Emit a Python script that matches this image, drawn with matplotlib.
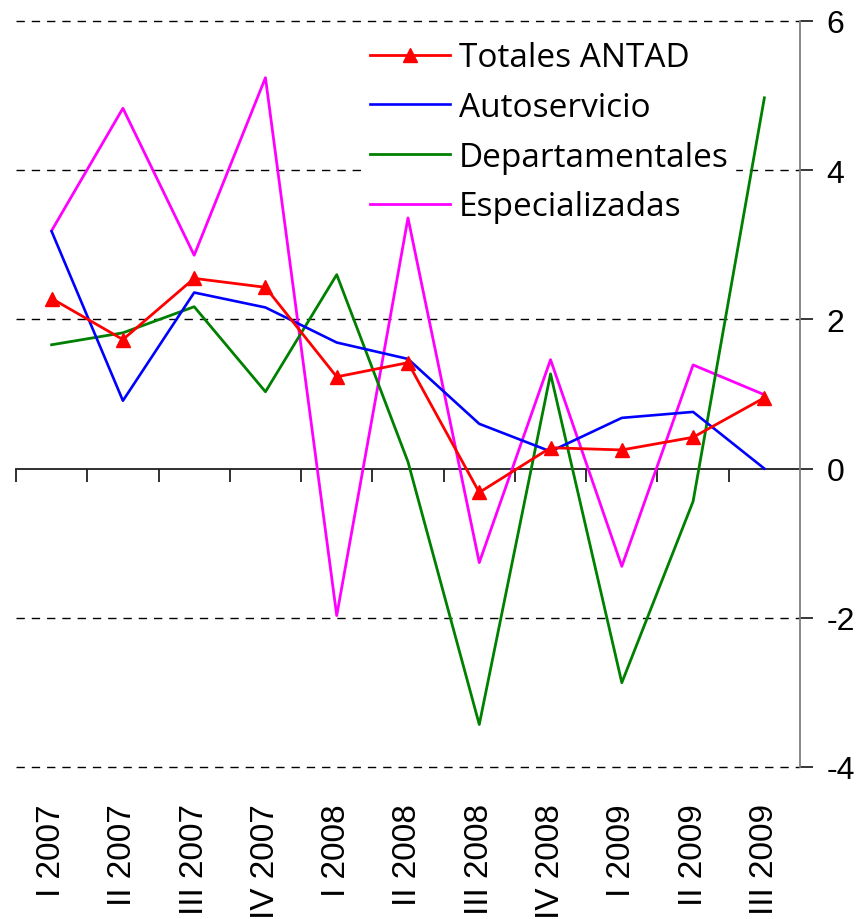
"""
Variación trimestral de ventas ANTAD por tipo de tienda
"""

import matplotlib
matplotlib.use("Agg")
import matplotlib.pyplot as plt
import numpy as np

trimestres = ['I 2007', 'II 2007', 'III 2007', 'IV 2007', 'I 2008', 'II 2008',
              'III 2008', 'IV 2008', 'I 2009', 'II 2009', 'III 2009']

totales_antad = [2.28, 1.73, 2.55, 2.43, 1.23, 1.42, -0.32, 0.28, 0.25, 0.42, 0.95]
autoservicio = [3.18, 0.91, 2.36, 2.16, 1.69, 1.47, 0.60, 0.23, 0.68, 0.76, 0.00]
departamentales = [1.66, 1.82, 2.17, 1.03, 2.60, 0.09, -3.43, 1.27, -2.87, -0.44, 4.97]
especializadas = [3.19, 4.83, 2.86, 5.24, -1.97, 3.36, -1.26, 1.46, -1.31, 1.39, 0.99]

y_ticks = [-4, -2, 0, 2, 4, 6]

fig = plt.figure(figsize=(8.6, 9.2), dpi=100)
ax = fig.add_axes([16 / 860, (920 - 768) / 920, 784 / 860, 746 / 920])

x = np.arange(len(trimestres))

ax.plot(x, totales_antad, color='#FF0000', lw=2.0, marker='^', markersize=10,
        label='Totales ANTAD', zorder=5)
ax.plot(x, autoservicio, color='#0000FF', lw=1.9, label='Autoservicio', zorder=4)
ax.plot(x, departamentales, color='#008000', lw=2.0, label='Departamentales', zorder=3)
ax.plot(x, especializadas, color='#FF00FF', lw=2.0, label='Especializadas', zorder=2)

ax.set_xlim(-0.5, len(trimestres) - 0.5)
ax.set_ylim(-4, 6)

# Líneas de guía punteadas (excepto el cero)
for v in y_ticks:
    if v != 0:
        ax.axhline(v, color='black', lw=1.0, ls=(0, (6, 5)), zorder=1, clip_on=False)

# Eje Y a la derecha
for s in ['left', 'top', 'bottom']:
    ax.spines[s].set_visible(False)
ax.spines['right'].set_color('#808080')
ax.spines['right'].set_linewidth(1.3)
ax.yaxis.tick_right()
ax.set_yticks(y_ticks)
ax.set_yticklabels([str(v) for v in y_ticks], fontsize=23, family='Liberation Sans')
ax.tick_params(axis='y', direction='out', length=9, width=1.1, pad=10, colors='black')

# Etiquetas de categoría debajo del área
ax.set_xticks(x)
ax.set_xticklabels(trimestres, rotation=90, fontsize=24, family='Liberation Sans')
ax.tick_params(axis='x', length=0, pad=26)

# Eje en el cero con marcas entre categorías
eje_cero = ax.secondary_xaxis(0.4)
eje_cero.set_xticks(np.arange(len(trimestres)) - 0.5)
eje_cero.set_xticklabels([])
eje_cero.tick_params(direction='out', length=9, width=1.3, colors='#202020')
eje_cero.spines['bottom'].set_color('#202020')
eje_cero.spines['bottom'].set_linewidth(1.3)

# Leyenda con fondo blanco: tapa la cuadrícula pero no las series
leg = ax.legend(loc='upper left', bbox_to_anchor=(0.422, 1.004), frameon=True,
                fancybox=False, framealpha=1, edgecolor='white',
                prop={'family': 'Open Sans', 'size': 24},
                handlelength=2.4, handletextpad=0.25, labelspacing=0.5,
                borderpad=0.2)
leg.set_zorder(1.5)

fig.savefig('out.png', dpi=100)
plt.close(fig)
